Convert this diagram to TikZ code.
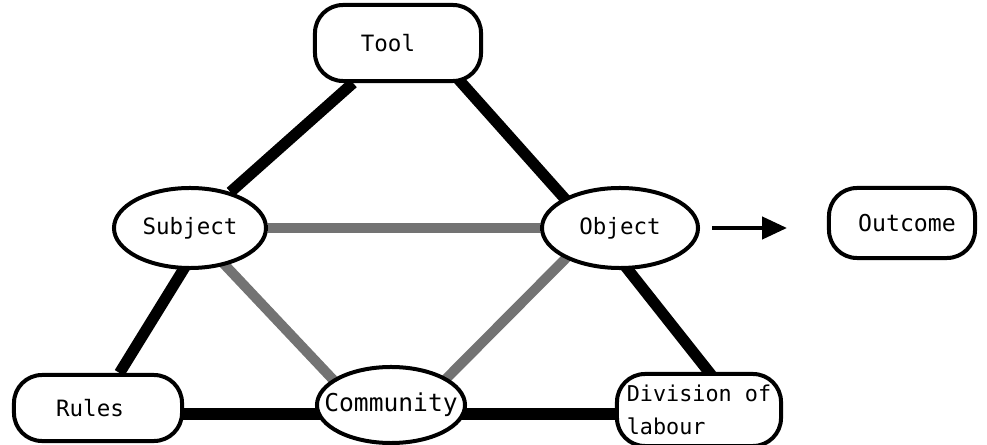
\documentclass[tikz,border=0pt]{standalone}
\usepackage{fontspec}
\setmonofont{DejaVu Sans Mono}
\usetikzlibrary{arrows.meta,backgrounds,shapes.geometric}

\newcommand\nodefont{\ttfamily\fontsize{16}{19}\selectfont}

\begin{document}
\begin{tikzpicture}[x=0.025cm,y=-0.025cm]

	%\draw[help lines,step=100] (0,0) grid (987,445);

	\tikzset{box/.style={draw,fill=white,line width=0.1cm,rounded corners=0.7cm,inner sep=0pt,font=\nodefont},
	         ell/.style={draw,fill=white,line width=0.1cm,ellipse,inner sep=0pt},
	         every label/.style={font=\nodefont},
	         link/.style={line width=0.28cm},
	         soft/.style={line width=0.25cm,black!55},
	         flow/.style={line width=0.1cm,-{Triangle[length=0.62cm,width=0.55cm]}}}

	\useasboundingbox (0,0) rectangle (987,445);

	% top and middle row
	\node[box,minimum width=4.15cm,minimum height=1.9cm] (tool) at (398,43) {\hspace*{-0.5cm}Tool};
	\node[ell,minimum width=3.8cm,minimum height=2cm,label=center:Subject] (subject) at (190,228) {};
	\node[ell,minimum width=3.9cm,minimum height=2cm,label=center:Object] (object) at (620,228) {};
	\node[box,minimum width=3.65cm,minimum height=1.75cm,font=\ttfamily\fontsize{16.5}{19}\selectfont] (outcome) at (902,223) {\hspace*{0.25cm}Outcome};

	% bottom row
	\node[box,minimum width=4.2cm,minimum height=1.65cm] (rules) at (98,408) {\hspace*{-0.4cm}Rules};
	\node[ell,minimum width=3.7cm,minimum height=1.9cm,label={[font=\ttfamily\fontsize{17.5}{20}\selectfont]center:Community}] (community) at (391,405) {};
	\node[box,minimum width=4.1cm,minimum height=1.8cm,align=left,font=\ttfamily\fontsize{15.5}{23}\selectfont] (division) at (699,410) {Division of\\labour};

	% triangle
	\begin{scope}[on background layer]
		\draw[link] (tool) -- (subject);
		\draw[link] ([xshift=0.475cm]subject.center) -- (rules);
		\draw[link] ([xshift=0.7cm]tool.center) -- ([xshift=-0.725cm]object.center);
		\draw[link] ([xshift=-0.625cm]object.center) -- ([xshift=1cm]division.center);
		\draw[link] ([yshift=-0.15cm]rules.center) -- ([yshift=-0.15cm]rules.center -| community.center);
		\draw[link] ([yshift=-0.225cm]community.center) -- ([yshift=-0.225cm]community.center -| division.center);

		\draw[soft] (subject) -- (object);
		\draw[soft] (subject.center) -- ([xshift=-0.85cm]community.center);
		\draw[soft] ([xshift=0.725cm]community.center) -- ([xshift=-0.6cm]object.center);
	\end{scope}

	\draw[flow,shorten <=0.3cm,shorten >=1cm] (object.east) -- (object.east -| outcome.west);

\end{tikzpicture}
\end{document}
